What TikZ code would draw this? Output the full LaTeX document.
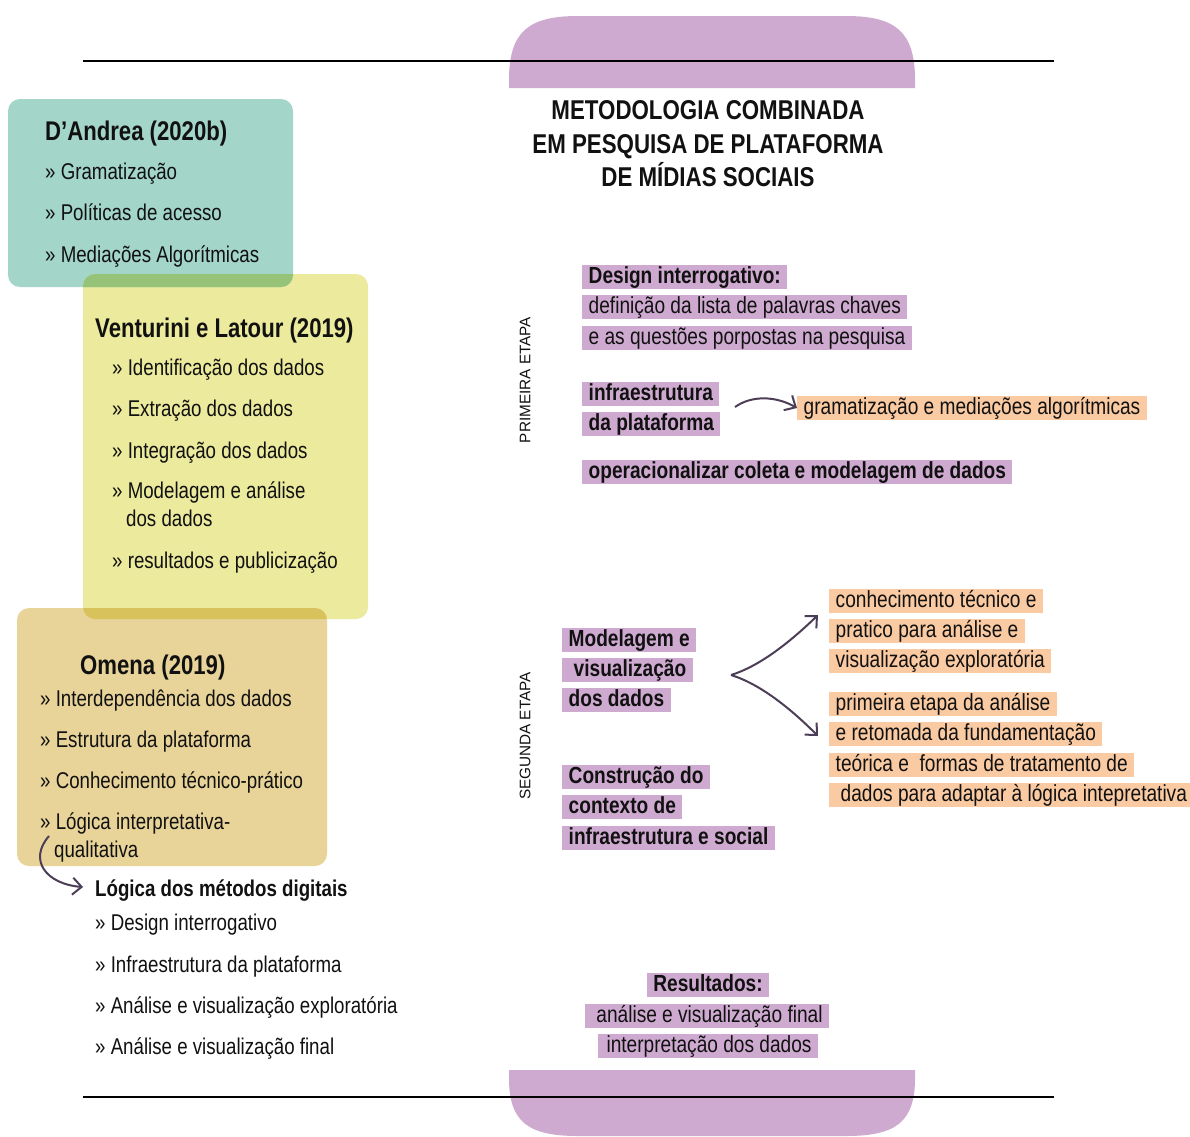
\documentclass[tikz,border=0pt]{standalone}
\usepackage{fontspec}
\setmainfont{Liberation Sans}
\newfontfamily\nar{Liberation Sans}[FakeStretch=0.82]
\usetikzlibrary{arrows.meta}

\definecolor{tealbox}{RGB}{163,213,201}
\definecolor{yellowbox}{RGB}{236,234,156}
\definecolor{tanbox}{RGB}{232,212,153}
\definecolor{tealyellow}{RGB}{151,195,120}
\definecolor{yellowtan}{RGB}{215,194,92}
\definecolor{purp}{RGB}{207,170,208}
\definecolor{peach}{RGB}{250,203,163}
\definecolor{arrowcol}{RGB}{77,62,88}
\definecolor{ink}{RGB}{17,17,17}

\tikzset{
  body/.style={anchor=west, inner sep=0pt, text=ink, text height=19.5pt, text depth=2.5pt,
    font=\nar\fontsize{22.8}{27}\selectfont},
  bodyb/.style={body, font=\nar\bfseries\fontsize{22.8}{27}\selectfont},
  head/.style={anchor=west, inner sep=0pt, text=ink, text height=22pt, text depth=4pt,
    font=\nar\bfseries\fontsize{27}{32}\selectfont},
  hl/.style={anchor=west, fill=purp, inner xsep=6.5pt, inner ysep=1pt, text=ink,
    text height=17.5pt, text depth=4.5pt, font=\nar\fontsize{23.3}{27}\selectfont},
  hlb/.style={hl, font=\nar\bfseries\fontsize{23.3}{27}\selectfont},
  hlo/.style={hl, fill=peach},
  stage/.style={rotate=90, inner sep=0pt, text=ink, font=\fontsize{15.3}{18}\selectfont},
  conn/.style={draw=arrowcol, line width=2pt, -{Straight Barb[length=9pt,width=17pt,line width=2pt]}},
  rule/.style={line width=2pt, black},
}

\begin{document}
\begin{tikzpicture}[x=1pt,y=-1pt]
\useasboundingbox (0,0) rectangle (1190,1136);
\fill[white] (0,0) rectangle (1190,1136);

% --- coloured caps at top and bottom
\fill[purp] (509,88) -- (509,80) .. controls (509,32) and (528,16) .. (578,16)
  -- (846,16) .. controls (896,16) and (915,32) .. (915,80) -- (915,88) -- cycle;
\fill[purp] (509,1070) -- (509,1078) .. controls (509,1122) and (528,1136) .. (578,1136)
  -- (846,1136) .. controls (896,1136) and (915,1122) .. (915,1078) -- (915,1070) -- cycle;
\coordinate (rtl) at (83,61);   \coordinate (rtr) at (1054,61);
\coordinate (rbl) at (83,1097); \coordinate (rbr) at (1054,1097);
\draw[rule] (rtl) -- (rtr);
\draw[rule] (rbl) -- (rbr);

% --- author boxes
\fill[yellowbox, rounded corners=12pt] (83,274) rectangle (368,619);
\fill[tealbox, rounded corners=12pt] (8,99) rectangle (293,287);
\fill[tanbox, rounded corners=12pt] (17,608) rectangle (327,866);
\begin{scope}
  \clip[rounded corners=12pt] (8,99) rectangle (293,287);
  \fill[tealyellow, rounded corners=12pt] (83,274) rectangle (368,619);
\end{scope}
\begin{scope}
  \clip[rounded corners=12pt] (17,608) rectangle (327,866);
  \fill[yellowtan, rounded corners=12pt] (83,274) rectangle (368,619);
\end{scope}

% D'Andrea
\node[head] (dh) at (45,131) {D’Andrea (2020b)};
\node[body] (d1) at (45,171) {» Gramatização};
\node[body] (d2) at (45,212) {» Políticas de acesso};
\node[body] (d3) at (45,254) {» Mediações Algorítmicas};

% Venturini e Latour
\node[head] (vh) at (95,328) {Venturini e Latour (2019)};
\node[body] (v1) at (112,367) {» Identificação dos dados};
\node[body] (v2) at (112,408) {» Extração dos dados};
\node[body] (v3) at (112,450) {» Integração dos dados};
\node[body] (v4) at (112,490) {» Modelagem e análise};
\node[body] (v4b) at (126,518) {dos dados};
\node[body] (v5) at (112,560) {» resultados e publicização};

% Omena
\node[head] (oh) at (80,665) {Omena (2019)};
\node[body] (o1) at (40,698) {» Interdependência dos dados};
\node[body] (o2) at (40,739) {» Estrutura da plataforma};
\node[body] (o3) at (40,780) {» Conhecimento técnico-prático};
\node[body] (o4) at (40,821) {» Lógica interpretativa-};
\node[body] (o4b) at (54,849) {qualitativa};

% Lógica dos métodos digitais
\node[bodyb] (lh) at (95,888) {Lógica dos métodos digitais};
\node[body] (l1) at (95,922) {» Design interrogativo};
\node[body] (l2) at (95,964) {» Infraestrutura da plataforma};
\node[body] (l3) at (95,1005) {» Análise e visualização exploratória};
\node[body] (l4) at (95,1046) {» Análise e visualização final};

\coordinate (qs) at (49,836);
\draw[conn, shorten >=12pt] (qs) .. controls (28,860) and (46,884) .. (lh.west);

% --- title
\node[align=center, inner sep=0pt, text=ink, font=\nar\bfseries\fontsize{27.2}{33.5}\selectfont]
  (title) at (708,144) {METODOLOGIA COMBINADA\\EM PESQUISA DE PLATAFORMA\\DE MÍDIAS SOCIAIS};

% --- first stage
\node[stage] (s1) at (525,380) {PRIMEIRA ETAPA};
\node[hlb] (di) at (582,277) {Design interrogativo:};
\node[hl] (di1) at (582,307) {definição da lista de palavras chaves};
\node[hl] (di2) at (582,338) {e as questões porpostas na pesquisa};
\node[hlb] (inf1) at (582,394) {infraestrutura};
\node[hlb] (inf2) at (582,424) {da plataforma};
\node[hlo] (gram) at (797,408) {gramatização e mediações algorítmicas};
\node[hlb] (op) at (582,472) {operacionalizar coleta e modelagem de dados};

\coordinate (ia) at (735,407);
\draw[conn] (ia) .. controls (752,395) and (776,396) .. (gram.west);

% --- second stage
\node[stage] (s2) at (525,736) {SEGUNDA ETAPA};
\node[hlb] (m1) at (562,640) {Modelagem e};
\node[hlb] (m2) at (562,670) {\hspace{5pt}visualização};
\node[hlb] (m3) at (562,700) {dos dados};
\node[hlb] (c1) at (562,777) {Construção do};
\node[hlb] (c2) at (562,807) {contexto de};
\node[hlb] (c3) at (562,838) {infraestrutura e social};

\node[hlo] (k1) at (829,601) {conhecimento técnico e};
\node[hlo] (k2) at (829,631) {pratico para análise e};
\node[hlo] (k3) at (829,661) {visualização exploratória};
\node[hlo] (p1) at (829,704) {primeira etapa da análise};
\node[hlo] (p2) at (829,734) {e retomada da fundamentação};
\node[hlo] (p3) at (829,765) {teórica e~ formas de tratamento de};
\node[hlo] (p4) at (829,795) {\hspace{5pt}dados para adaptar à lógica intepretativa};

\coordinate (fk) at (731,675);
\coordinate (fu) at (818,615);
\coordinate (fd) at (818,736);
\draw[conn] (fk) .. controls (760,666) and (790,642) .. (fu);
\draw[conn] (fk) .. controls (760,684) and (790,708) .. (fd);

% --- results
\node[hlb, anchor=center] (r0) at (708,985) {Resultados:};
\node[hl, anchor=center] (r1) at (707,1016) {\hspace{5pt}análise e visualização final};
\node[hl, anchor=center] (r2) at (708,1046) {\hspace{2pt}interpretação dos dados\hspace{2pt}};
\end{tikzpicture}
\end{document}
